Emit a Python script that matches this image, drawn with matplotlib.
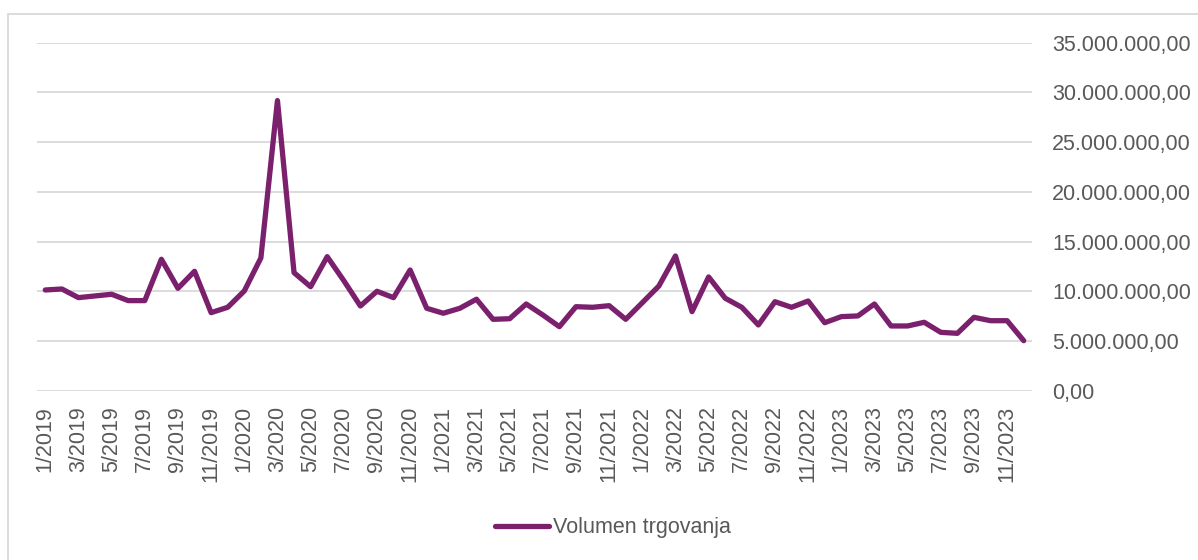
"""Monthly trading volume, 1/2019 - 12/2023."""

import matplotlib
matplotlib.use("Agg")
import matplotlib.pyplot as plt
from matplotlib.patches import Rectangle
from matplotlib.ticker import FuncFormatter, MultipleLocator

# monthly trading volume in millions, Jan 2019 .. Dec 2023
years = [2019, 2020, 2021, 2022, 2023]
volume_m = [
    10.13, 10.23, 9.36, 9.53, 9.70, 9.06, 9.06, 13.22, 10.30, 12.01, 7.85, 8.39,
    10.03, 13.35, 29.18, 11.87, 10.46, 13.48, 11.07, 8.52, 10.00, 9.36, 12.14, 8.29,
    7.79, 8.29, 9.20, 7.18, 7.24, 8.72, 7.62, 6.44, 8.45, 8.39, 8.55, 7.18,
    8.85, 10.53, 13.55, 7.95, 11.44, 9.30, 8.39, 6.61, 8.95, 8.39, 9.02, 6.84,
    7.45, 7.52, 8.72, 6.51, 6.51, 6.88, 5.87, 5.77, 7.38, 7.04, 7.04, 5.03,
]
series_name = "Volumen trgovanja"

months = [f"{m}/{y}" for y in years for m in range(1, 13)]
volume = [v * 1e6 for v in volume_m]

LINE = "#7A206D"
GRID = "#D9D9D9"
TEXT = "#595959"
FS = 15.5

plt.rcParams["font.family"] = ["Liberation Sans", "DejaVu Sans"]

fig = plt.figure(figsize=(11.98, 5.6), dpi=100)
ax = fig.add_axes([37 / 1198, 169.3 / 560, 995 / 1198, 348 / 560])

x = list(range(len(months)))
ax.plot(x, volume, color=LINE, linewidth=3.8, label=series_name,
        solid_joinstyle="round", solid_capstyle="round")

ax.set_xlim(-0.5, len(months) - 0.5)
ax.set_ylim(0, 35e6)
ax.yaxis.set_major_locator(MultipleLocator(5e6))


def fmt(v, _pos):
    s = f"{v:,.2f}"
    return s.replace(",", "X").replace(".", ",").replace("X", ".")


ax.yaxis.set_major_formatter(FuncFormatter(fmt))
ax.yaxis.tick_right()
ax.set_xticks(x[::2])
ax.set_xticklabels(months[::2], rotation=90, va="top", ha="center")

ax.tick_params(axis="y", length=0, pad=14.5, labelsize=FS, labelcolor=TEXT)
ax.tick_params(axis="x", length=0, pad=11, labelsize=FS, labelcolor=TEXT)
ax.grid(True, axis="y", color=GRID, linewidth=1.3)
ax.set_axisbelow(True)
for side in ax.spines.values():
    side.set_visible(False)

# chart frame (only top/left edges fall inside the picture)
fig.patches.append(Rectangle((8 / 1198, -0.1), 1.2, 1.1 - 14 / 560,
                             transform=fig.transFigure, fill=False,
                             edgecolor=GRID, linewidth=1.3))

fig.legend(loc="center", bbox_to_anchor=(613 / 1198, 1 - 528 / 560),
           frameon=False, fontsize=FS, labelcolor=TEXT,
           handlelength=2.5, handletextpad=0.2)

fig.savefig("out.png", dpi=100)
